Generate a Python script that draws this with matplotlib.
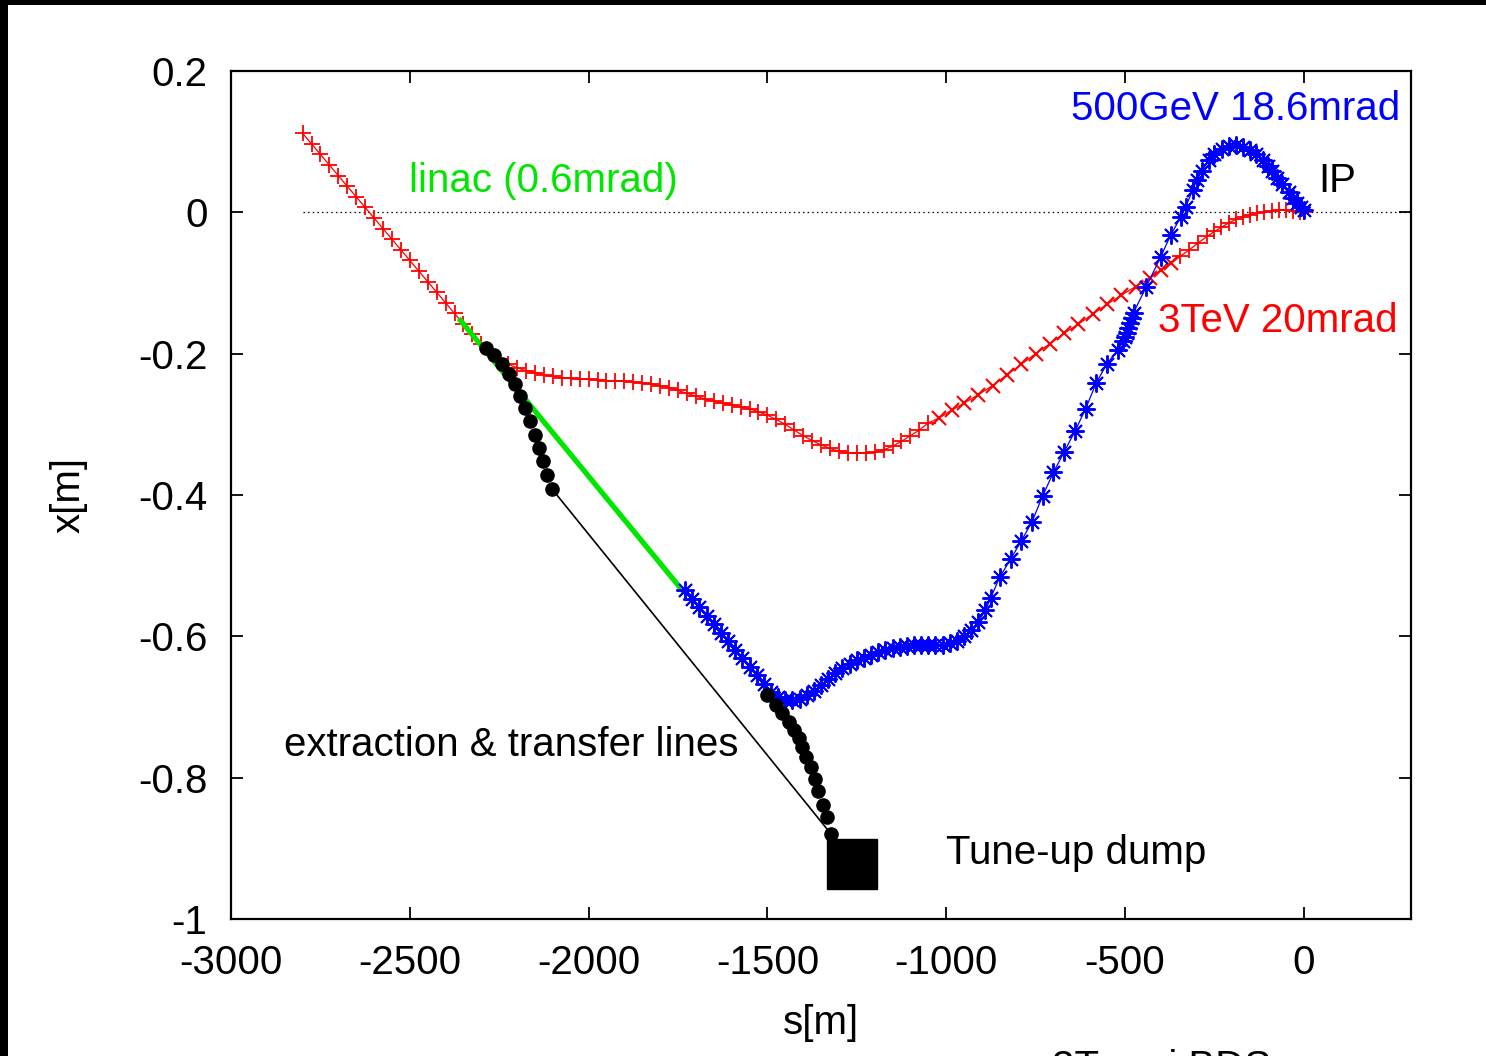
import matplotlib
matplotlib.use('Agg')
import matplotlib.pyplot as plt
from matplotlib.patches import Rectangle
import numpy as np

plt.rcParams['font.family'] = ['Liberation Sans', 'DejaVu Sans']
plt.rcParams['axes.unicode_minus'] = False

# 3TeV 20mrad beam line (s [m], x [m])
red_s = [-2800, -2775, -2750, -2725, -2700, -2675, -2650, -2625, -2600, -2575,
         -2550, -2525, -2500, -2475, -2450, -2425, -2400, -2375, -2350, -2325,
         -2300, -2275, -2250, -2225, -2200, -2175, -2150, -2125, -2100, -2075,
         -2050, -2025, -2000, -1975, -1950, -1925, -1900, -1875, -1850, -1825,
         -1800, -1775, -1750, -1725, -1700, -1675, -1650, -1625, -1600, -1575,
         -1550, -1525, -1500, -1475, -1450, -1425, -1400, -1375, -1350, -1325,
         -1300, -1275, -1250, -1225, -1200, -1175, -1150, -1125, -1100, -1075,
         -1050, -1020, -985, -950, -910, -870, -830, -790, -750, -710,
         -670, -630, -590, -550, -510, -470, -430, -400, -370, -345,
         -320, -295, -270, -250, -230, -210, -190, -170, -150, -130,
         -110, -90, -70, -50, -30, -10, 0]
red_x = [0.112, 0.097, 0.082, 0.067, 0.052, 0.037, 0.022, 0.007, -0.008, -0.023,
         -0.038, -0.053, -0.068, -0.083, -0.098, -0.113, -0.128, -0.143, -0.158, -0.172,
         -0.186, -0.199, -0.208, -0.215, -0.220, -0.224, -0.227, -0.230, -0.232, -0.234,
         -0.235, -0.236, -0.236, -0.237, -0.238, -0.238, -0.239, -0.240, -0.241, -0.243,
         -0.245, -0.248, -0.252, -0.256, -0.260, -0.264, -0.267, -0.270, -0.273, -0.275,
         -0.278, -0.282, -0.287, -0.293, -0.300, -0.308, -0.316, -0.323, -0.329, -0.334,
         -0.338, -0.340, -0.341, -0.341, -0.339, -0.336, -0.331, -0.324, -0.316, -0.308,
         -0.298, -0.291, -0.280, -0.270, -0.258, -0.245, -0.230, -0.215, -0.200, -0.186,
         -0.171, -0.158, -0.144, -0.130, -0.117, -0.105, -0.093, -0.082, -0.072, -0.062,
         -0.053, -0.043, -0.034, -0.027, -0.021, -0.015, -0.010, -0.006, -0.003, -0.001,
         0.001, 0.002, 0.003, 0.003, 0.002, 0.001, 0.0]

# 500GeV 18.6mrad beam line
blue_s = [-1731, -1710, -1690, -1670, -1650, -1630, -1610, -1590, -1570, -1550,
          -1530, -1510, -1490, -1470, -1450, -1430, -1410, -1390, -1370, -1350,
          -1330, -1310, -1290, -1270, -1250, -1230, -1210, -1190, -1170, -1150,
          -1130, -1110, -1090, -1070, -1050, -1030, -1010, -990, -970, -950,
          -930, -910, -890, -875, -850, -820, -790, -760, -730, -700,
          -670, -640, -610, -580, -550, -520, -505, -500, -495, -490,
          -485, -480, -476, -440, -400, -372, -344, -330, -310, -299,
          -285, -266, -250, -229, -210, -190, -170, -150, -134, -115,
          -100, -89, -75, -60, -42, -30, -18, -8, 0]
blue_x = [-0.535, -0.547, -0.559, -0.571, -0.583, -0.595, -0.607, -0.619, -0.631, -0.643,
          -0.655, -0.667, -0.679, -0.686, -0.690, -0.690, -0.688, -0.683, -0.677, -0.669,
          -0.660, -0.652, -0.645, -0.639, -0.634, -0.630, -0.626, -0.622, -0.619, -0.617,
          -0.615, -0.613, -0.612, -0.612, -0.612, -0.612, -0.612, -0.610, -0.606, -0.600,
          -0.591, -0.579, -0.563, -0.545, -0.516, -0.491, -0.465, -0.438, -0.401, -0.368,
          -0.339, -0.310, -0.278, -0.241, -0.214, -0.195, -0.182, -0.176, -0.170, -0.163,
          -0.156, -0.149, -0.142, -0.105, -0.063, -0.032, -0.007, 0.008, 0.032, 0.046,
          0.058, 0.074, 0.083, 0.090, 0.094, 0.095, 0.093, 0.088, 0.083, 0.074,
          0.065, 0.058, 0.049, 0.040, 0.029, 0.021, 0.013, 0.008, 0.004]

# linac
linac_s = [-2363, -1731]
linac_x = [-0.150, -0.539]

# extraction & transfer lines
ext1_s = [-2287, -2265, -2242, -2223, -2206, -2192, -2178, -2164, -2150, -2139, -2128, -2117, -2103]
ext1_x = [-0.192, -0.202, -0.215, -0.229, -0.243, -0.260, -0.277, -0.295, -0.315, -0.334, -0.352, -0.371, -0.391]
ext2_s = [-1501, -1476, -1460, -1440, -1426, -1412, -1404, -1392, -1378, -1367, -1359, -1345, -1334, -1323]
ext2_x = [-0.683, -0.697, -0.708, -0.721, -0.733, -0.744, -0.757, -0.771, -0.785, -0.802, -0.819, -0.839, -0.856, -0.879]
transfer_s = [-2103, -1323]
transfer_x = [-0.391, -0.879]
dump_s = [-1264]
dump_x = [-0.922]

xticks = [-3000, -2500, -2000, -1500, -1000, -500, 0]
yticks = [-1, -0.8, -0.6, -0.4, -0.2, 0, 0.2]
ytick_labels = ['-1', '-0.8', '-0.6', '-0.4', '-0.2', '0', '0.2']

RED = '#ff0000'
BLUE = '#0000ff'
GREEN = '#00e600'
FS = 29

fig = plt.figure(figsize=(14.86, 10.56), dpi=100)
ax = fig.add_axes([0.1555, 0.1297, 0.794, 0.803])

# zero line
ax.plot([-2800, 300], [0, 0], color='k', lw=0.9, ls=(0, (1.2, 2.5)))

# red line, '+' in dense parts, 'x' in the sparse middle part
rs = np.array(red_s)
rx = np.array(red_x)
ax.plot(rs, rx, color=RED, lw=0.9)
plus = (rs <= -1050) | (rs >= -345)
ax.plot(rs[plus], rx[plus], ls='none', marker='+', ms=11, mew=1.3, color=RED)
ax.plot(rs[~plus], rx[~plus], ls='none', marker='x', ms=10, mew=1.5, color=RED)

# linac
ax.plot(linac_s, linac_x, color=GREEN, lw=3.8, solid_capstyle='butt')

# blue line
ax.plot(blue_s, blue_x, color=BLUE, lw=0.9, marker=(8, 2, 0), ms=13, mew=1.4)

# extraction
ax.plot(ext1_s, ext1_x, 'o', color='k', ms=9.5)
ax.plot(ext2_s, ext2_x, 'o', color='k', ms=9.5)
ax.plot(transfer_s, transfer_x, color='k', lw=1.2)
ax.plot(dump_s, dump_x, 's', color='k', ms=35.5)

ax.set_xlim(-3000, 300)
ax.set_ylim(-1, 0.2)
ax.set_xticks(xticks)
ax.set_xticklabels([str(t) for t in xticks])
ax.set_yticks(yticks)
ax.set_yticklabels(ytick_labels)
ax.tick_params(direction='in', length=8.6, width=1.3, top=True, right=True,
               labelsize=FS)
ax.tick_params(axis='y', pad=17)
ax.tick_params(axis='x', pad=18)
for sp in ax.spines.values():
    sp.set_linewidth(1.6)

ax.set_xlabel('s[m]', fontsize=FS)
ax.set_ylabel('x[m]', fontsize=FS)
ax.xaxis.set_label_coords(0.5, -0.1)
ax.yaxis.set_label_coords(-0.122, 0.5)

ax.text(270, 0.146, '500GeV 18.6mrad', color=BLUE, fontsize=FS, ha='right', va='center')
ax.text(42, 0.045, 'IP', color='k', fontsize=FS, ha='left', va='center')
ax.text(-2502, 0.045, 'linac (0.6mrad)', color=GREEN, fontsize=FS, ha='left', va='center')
ax.text(264, -0.154, '3TeV 20mrad', color=RED, fontsize=FS, ha='right', va='center')
ax.text(-2852, -0.754, 'extraction & transfer lines', color='k', fontsize=FS,
        ha='left', va='center')
ax.text(-1001, -0.906, 'Tune-up dump', color='k', fontsize=FS, ha='left', va='center')

# cut-off caption at the bottom edge
fig.text(1052 / 1486, -23 / 1056, '3Tevs i BDS', fontsize=FS, ha='left', va='baseline')

# black frame remnants on left and top
fig.add_artist(Rectangle((0, 0), 8 / 1486, 1, transform=fig.transFigure,
                         color='k', lw=0))
fig.add_artist(Rectangle((0, 1 - 5 / 1056), 1, 5 / 1056, transform=fig.transFigure,
                         color='k', lw=0))

fig.savefig('out.png', dpi=100)
plt.close(fig)
